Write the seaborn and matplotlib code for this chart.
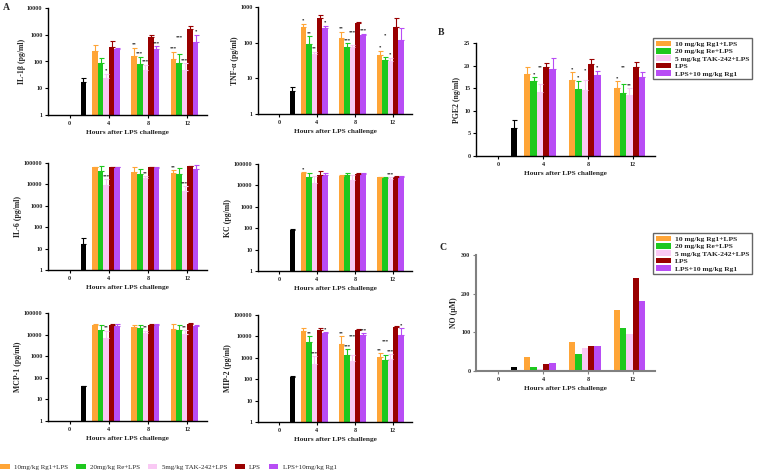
import matplotlib
matplotlib.use("Agg")
import matplotlib.pyplot as plt
from matplotlib.patches import Patch
from matplotlib.ticker import NullLocator
import seaborn as sns
import pandas as pd
import math

# ---------------- data ----------------
times = ["0", "4", "8", "12"]
treat_keys = ["Rg1+LPS", "Re+LPS", "TAK+LPS", "LPS", "LPS+Rg1", "Control"]
legend_panel = ["10 mg/kg Rg1+LPS", "20 mg/kg Re+LPS", "5 mg/kg TAK-242+LPS",
                "LPS", "LPS+10 mg/kg Rg1"]
legend_bottom = ["10mg/kg Rg1+LPS", "20mg/kg Re+LPS", "5mg/kg TAK-242+LPS",
                 "LPS", "LPS+10mg/kg Rg1"]
colors = ["#FFA537", "#1EC81E", "#F9C9F4", "#990000", "#B84DF5", "#000000"]

# rows: Rg1+LPS, Re+LPS, TAK+LPS, LPS, LPS+Rg1 ; columns: 4 h, 8 h, 12 h
il1b_mean = [[250, 160, 120], [85, 80, 90], [25, 48, 48], [350, 850, 1700], [290, 290, 520]]
il1b_top = [[400, 330, 230], [140, 150, 185], [35, 75, 85], [570, 950, 2050], [320, 370, 1000]]
il1b_ctrl, il1b_ctrl_top = 17, 24
il1b_stars = [["", "**", "***"], ["", "***", "***"], ["*", "***", "***"], ["", "", ""], ["", "***", "*"]]

tnf_mean = [[280, 135, 45], [90, 75, 32], [48, 78, 30], [500, 350, 280], [250, 160, 120]]
tnf_top = [[340, 195, 58], [150, 95, 40], [55, 85, 38], [600, 380, 480], [290, 180, 250]]
tnf_ctrl, tnf_ctrl_top = 4.5, 5.8
tnf_stars = [["*", "**", "*"], ["**", "***", "*"], ["**", "***", "*"], ["", "", ""], ["*", "***", ""]]

il6_mean = [[65000, 38000, 35000], [42000, 30000, 30000], [9000, 20000, 5000],
            [65000, 65000, 70000], [65000, 60000, 55000]]
il6_top = [[68000, 65000, 48000], [70000, 55000, 60000], [18000, 25000, 8000],
           [68000, 68000, 75000], [68000, 64000, 80000]]
il6_ctrl, il6_ctrl_top = 16, 30
il6_stars = [["", "", "**"], ["", "", ""], ["***", "**", "***"], ["", "", ""], ["", "", ""]]

kc_mean = [[38000, 28000, 24000], [25000, 30000, 22000], [13000, 18000, 20000],
           [30000, 35000, 25000], [32000, 33000, 24000]]
kc_top = [[42000, 30000, 26000], [38000, 40000, 24000], [28000, 30000, 24000],
          [45000, 38000, 28000], [38000, 38000, 27000]]
kc_ctrl, kc_ctrl_top = 80, 95
kc_stars = [["*", "", ""], ["", "", ""], ["", "", "***"], ["", "", ""], ["", "", ""]]

mcp1_mean = [[28000, 22000, 18000], [17000, 20000, 16000], [7000, 12000, 11000],
             [28000, 28000, 30000], [25000, 28000, 25000]]
mcp1_top = [[30000, 28000, 30000], [28000, 28000, 28000], [15000, 15000, 16000],
            [32000, 31000, 33000], [30000, 30000, 28000]]
mcp1_ctrl, mcp1_ctrl_top = 40, 43
mcp1_stars = [["", "", ""], ["", "", ""], ["**", "**", "**"], ["", "", ""], ["", "", ""]]

mip2_mean = [[18000, 4500, 1100], [5500, 1400, 800], [500, 700, 900],
             [20000, 20000, 28000], [14000, 12000, 12000]]
mip2_top = [[24000, 10000, 1600], [10000, 2500, 1300], [1200, 1300, 1500],
            [24000, 22000, 32000], [16000, 14000, 25000]]
mip2_ctrl, mip2_ctrl_top = 125, 140
mip2_stars = [["", "**", "**"], ["**", "***", "***"], ["***", "***", "***"], ["", "", ""], ["*", "***", "*"]]

pge2_mean = [[18.2, 16.8, 15.1], [16.7, 14.8, 13.9], [14.1, 14.6, 13.5],
             [19.8, 20.4, 19.8], [19.3, 17.9, 17.4]]
pge2_top = [[19.6, 18.6, 16.6], [17.5, 16.7, 15.9], [16.0, 16.8, 15.0],
            [20.6, 21.4, 20.7], [21.7, 18.9, 18.6]]
pge2_ctrl, pge2_ctrl_top = 6.1, 8.0
pge2_stars = [["", "*", "*"], ["*", "*", "**"], ["**", "*", "**"], ["", "", ""], ["", "*", ""]]

no_mean = [[37, 75, 157], [10, 45, 112], [5, 60, 95], [19, 64, 240], [21, 65, 180]]
no_ctrl = 10

log_ticks = [1, 10, 100, 1000, 10000, 100000]
log_labels = ["1", "10", "100", "1000", "10000", "100000"]

# ---------------- style ----------------
sns.set_style("ticks")
plt.rcParams["font.family"] = ["Liberation Serif", "DejaVu Serif"]
plt.rcParams["font.weight"] = "bold"
plt.rcParams["axes.labelweight"] = "bold"

W, H = 760, 473
fig = plt.figure(figsize=(W / 100, H / 100), dpi=100)


def add_ax(l, t, r, b):
    return fig.add_axes([l / W, 1 - b / H, (r - l) / W, (b - t) / H])


def make_df(means, ctrl):
    rows = [("0", "Control", ctrl)]
    for k, vals in zip(treat_keys[:5], means):
        for t, v in zip(times[1:], vals):
            rows.append((t, k, v))
    return pd.DataFrame(rows, columns=["time", "group", "value"])


def panel(rect, means, ctrl, ylabel, log, ylim, yticks, ytl,
          tops=None, ctrl_top=None, stars=None, spine_color="black",
          spine_w=1.0, xlim=(-0.55, 3.5), ylabelpad=1):
    ax = add_ax(*rect)
    df = make_df(means, ctrl)
    sns.barplot(data=df, x="time", y="value", hue="group", order=times,
                hue_order=treat_keys, palette=colors, errorbar=None,
                width=0.85, gap=0, saturation=1, legend=False, ax=ax,
                linewidth=0)
    if log:
        ax.set_yscale("log")
    ax.set_ylim(*ylim)
    ax.set_xlim(*xlim)
    ax.set_yticks(yticks)
    ax.set_yticklabels(ytl)
    ax.yaxis.set_minor_locator(NullLocator())
    if tops is not None:
        lookup = {("Control", 0): (ctrl_top, "")}
        for i, k in enumerate(treat_keys[:5]):
            for j in range(3):
                lookup[(k, j + 1)] = (tops[i][j], stars[i][j])
        placed = []
        for k, cont, col in zip(treat_keys, ax.containers, colors):
            for bar in cont:
                bw = bar.get_width()
                xc = bar.get_x() + bw / 2
                h = bar.get_height()
                ti = int(round(xc))
                if (k, ti) not in lookup:
                    continue
                top, st = lookup[(k, ti)]
                if top > h:
                    ax.errorbar([xc], [h], yerr=[[0], [top - h]], fmt="none",
                                ecolor=col, elinewidth=0.8, capsize=1.8,
                                capthick=0.8)
                if st:
                    if log:
                        ytxt = top * 1.1
                        def pos(v):
                            return math.log10(v) / math.log10(ylim[1])
                    else:
                        ytxt = top + (ylim[1] - ylim[0]) * 0.008
                        def pos(v):
                            return v / ylim[1]
                    moved = True
                    while moved:
                        moved = False
                        for px, py in placed:
                            if abs(px - xc) < bw * 1.4 and abs(pos(py) - pos(ytxt)) < 0.06:
                                ytxt = ytxt * 1.8 if log else ytxt + (ylim[1] - ylim[0]) * 0.06
                                moved = True
                    placed.append((xc, ytxt))
                    ax.text(xc, ytxt, st, ha="center", va="bottom",
                            fontsize=3.4, color="black")
    sns.despine(ax=ax)
    for s in ("left", "bottom"):
        ax.spines[s].set_color(spine_color)
        ax.spines[s].set_linewidth(spine_w)
    ax.tick_params(axis="both", labelsize=4.4, length=2.5, width=0.8, pad=1.5,
                   color=spine_color)
    ax.set_xlabel("Hours after LPS challenge", fontsize=5.3, fontweight="bold",
                  labelpad=3)
    ax.set_ylabel(ylabel, fontsize=5.6, fontweight="bold", labelpad=ylabelpad)
    return ax


panel((48, 8, 207, 115), il1b_mean, il1b_ctrl, "IL-1β (pg/ml)", True, (1, 10000),
      log_ticks[:5], log_labels[:5], il1b_top, il1b_ctrl_top, il1b_stars)
panel((258, 7, 412, 114), tnf_mean, tnf_ctrl, "TNF-α (pg/ml)", True, (1, 1000),
      log_ticks[:4], log_labels[:4], tnf_top, tnf_ctrl_top, tnf_stars)
panel((48, 163, 207, 270), il6_mean, il6_ctrl, "IL-6 (pg/ml)", True, (1, 100000),
      log_ticks, log_labels, il6_top, il6_ctrl_top, il6_stars)
panel((258, 164, 412, 271), kc_mean, kc_ctrl, "KC (pg/ml)", True, (1, 100000),
      log_ticks, log_labels, kc_top, kc_ctrl_top, kc_stars)
panel((48, 313, 207, 421), mcp1_mean, mcp1_ctrl, "MCP-1 (pg/ml)", True, (1, 100000),
      log_ticks, log_labels, mcp1_top, mcp1_ctrl_top, mcp1_stars)
panel((258, 315, 412, 422), mip2_mean, mip2_ctrl, "MIP-2 (pg/ml)", True, (1, 100000),
      log_ticks, log_labels, mip2_top, mip2_ctrl_top, mip2_stars)
panel((476, 43, 655, 156), pge2_mean, pge2_ctrl, "PGE2 (ng/ml)", False, (0, 25),
      [0, 5, 10, 15, 20, 25], ["0", "5", "10", "15", "20", "25"],
      pge2_top, pge2_ctrl_top, pge2_stars, xlim=(-0.5, 3.5), ylabelpad=2)
panel((476, 255, 655, 371), no_mean, no_ctrl, "NO (μM)", False, (0, 300),
      [0, 100, 200, 300], ["0", "100", "200", "300"], spine_color="#808080",
      spine_w=1.5, xlim=(-0.5, 3.5), ylabelpad=2)

# panel letters
fig.text(3 / W, 1 - 3 / H, "A", fontsize=7, fontweight="bold", va="top")
fig.text(438 / W, 1 - 28 / H, "B", fontsize=7, fontweight="bold", va="top")
fig.text(440 / W, 1 - 243 / H, "C", fontsize=7, fontweight="bold", va="top")

handles = [Patch(facecolor=c, edgecolor="none") for c in colors[:5]]
for y0 in (38, 233):
    fig.legend(handles, legend_panel, loc="upper left",
               bbox_to_anchor=(653 / W, 1 - y0 / H), frameon=True,
               fancybox=False, edgecolor="#666666", framealpha=1,
               prop={"family": "Liberation Serif", "weight": "bold", "size": 5.4},
               handlelength=2.0, handleheight=0.8, labelspacing=0.12,
               borderpad=0.35, handletextpad=0.6, borderaxespad=0)

fig.legend(handles, legend_bottom, loc="lower left", bbox_to_anchor=(0, 3 / H),
           ncol=5, frameon=False,
           prop={"family": "Liberation Serif", "weight": "normal", "size": 5},
           handlelength=1.4, handleheight=0.55, columnspacing=1.1,
           handletextpad=0.65, borderaxespad=0, borderpad=0)

fig.savefig("out.png", dpi=100)
